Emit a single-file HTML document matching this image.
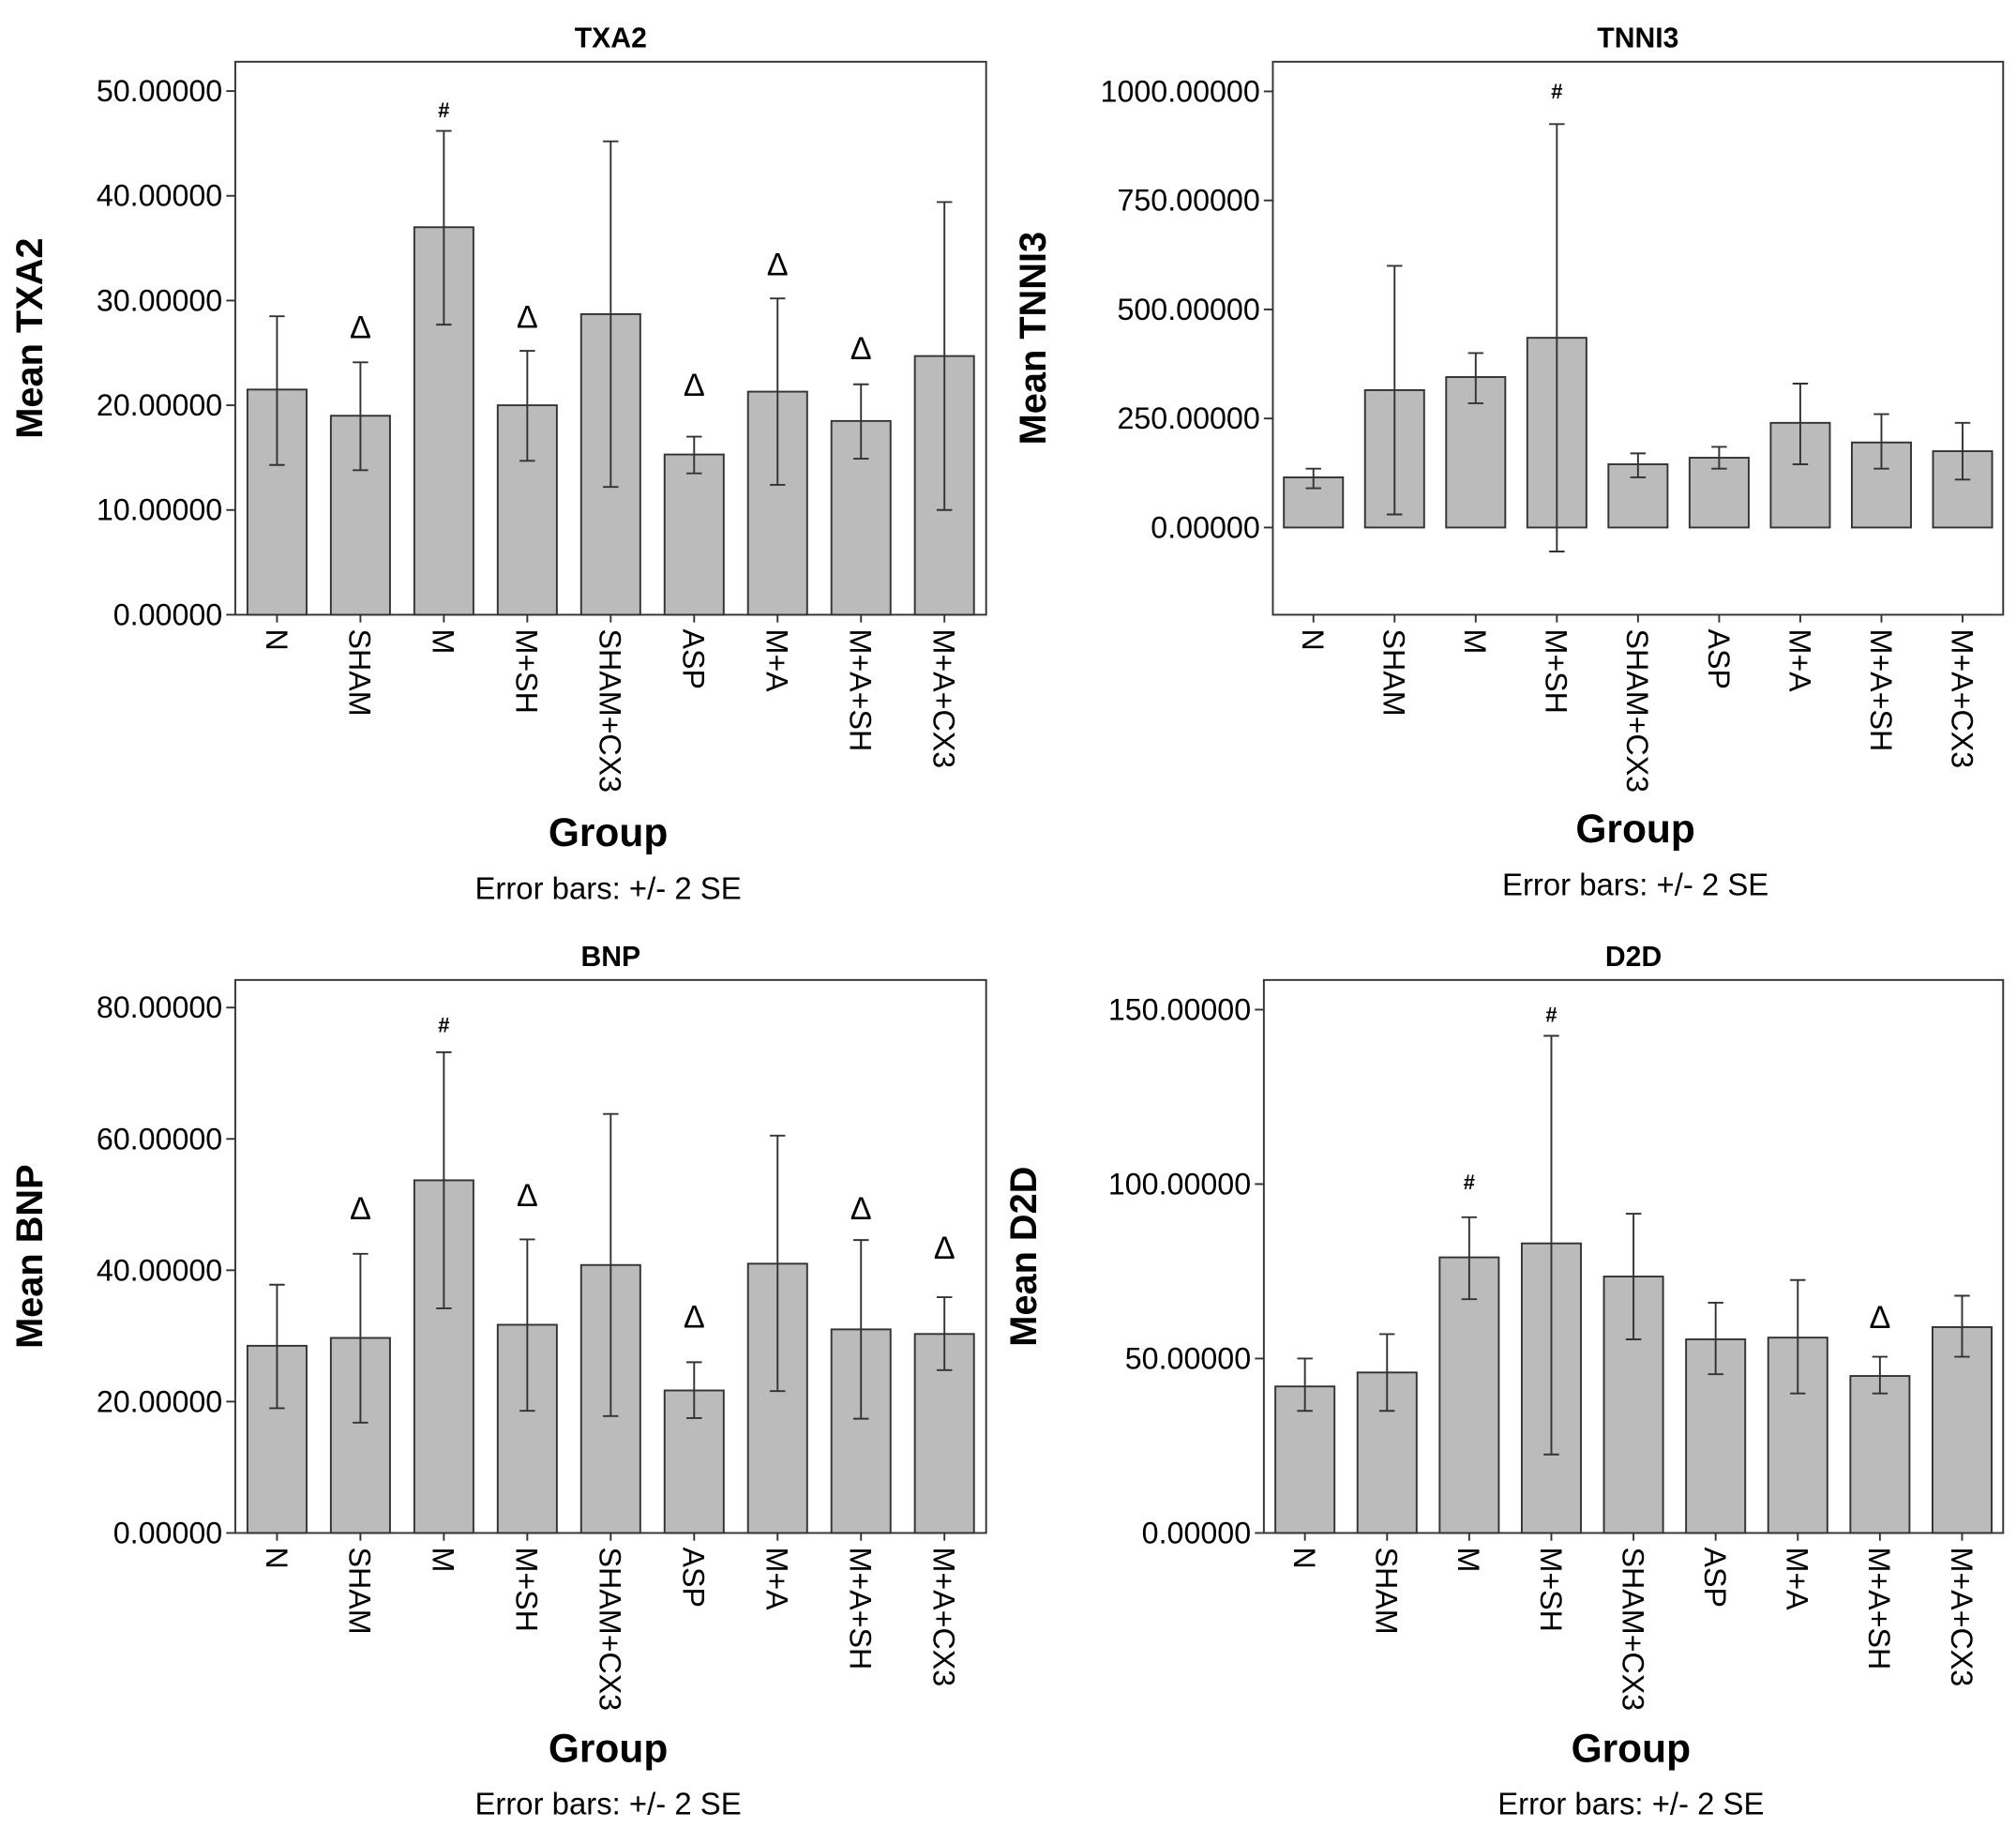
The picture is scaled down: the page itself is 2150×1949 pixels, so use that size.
<!DOCTYPE html>
<html><head><meta charset="utf-8"><style>
html,body{margin:0;padding:0;background:#fff}
svg{display:block;font-family:"Liberation Sans",Arial,sans-serif}
</style></head><body>
<svg id="fig" width="2150" height="1949" viewBox="0 0 1568 1421.4" xmlns="http://www.w3.org/2000/svg"></svg>
<script>
const groups = ["N","SHAM","M","M+SH","SHAM+CX3","ASP","M+A","M+A+SH","M+A+CX3"];
// TXA2
const txaMean = [21.5,19,37,20,28.7,15.3,21.3,18.5,24.7];
const txaLo = [14.3,13.8,27.7,14.7,12.2,13.5,12.4,14.9,10];
const txaHi = [28.5,24.1,46.2,25.2,45.2,17,30.2,22,39.4];
const txaTicks = [0,10,20,30,40,50];
const txaMarks = [null,["Δ",27.5],["#",48],["Δ",28.5],null,["Δ",22],["Δ",33.5],["Δ",25.5],null];
// TNNI3
const tnnMean = [115,315,345,435,145,160,240,195,175];
const tnnLo = [90,30,285,-55,115,135,145,135,110];
const tnnHi = [135,600,400,925,170,185,330,260,240];
const tnnTicks = [0,250,500,750,1000];
const tnnMarks = [null,null,null,["#",995],null,null,null,null,null];
// BNP
const bnpMean = [28.5,29.7,53.7,31.7,40.8,21.7,41,31,30.3];
const bnpLo = [19,16.8,34.2,18.6,17.8,17.5,21.6,17.4,24.8];
const bnpHi = [37.8,42.5,73.2,44.7,63.8,26,60.5,44.6,35.9];
const bnpTicks = [0,20,40,60,80];
const bnpMarks = [null,["Δ",49.5],["#",77],["Δ",51.5],null,["Δ",33],null,["Δ",49.5],["Δ",43.5]];
// D2D
const d2dMean = [42,46,79,83,73.5,55.5,56,45,59];
const d2dLo = [35,35,67,22.5,55.5,45.5,40,40,50.5];
const d2dHi = [50,57,90.5,142.5,91.5,66,72.5,50.5,68];
const d2dTicks = [0,50,100,150];
const d2dMarks = [null,null,["#",100],["#",148],null,null,null,["Δ",62],null];

const NS="http://www.w3.org/2000/svg";
const svg=document.getElementById('fig');
function el(tag,attrs,parent){const e=document.createElementNS(NS,tag);for(const k in attrs)e.setAttribute(k,attrs[k]);(parent||svg).appendChild(e);return e;}

function panel(cfg,mean,lo,hi,ticks,marks){
  const g=el('g',{});
  
  
  const {L,R,T,B,vTop,vBot}=cfg;
  const y=v=>B-(v-vBot)/(vTop-vBot)*(B-T);
  const step=(R-L)/9;
  const x=i=>L+step*(i+0.5);
  const t=el('text',{x:(L+R)/2,y:T-11,'text-anchor':'middle','font-size':22,'font-weight':'bold'},g);
  t.textContent=cfg.title;
  
  
  const box=el('rect',{x:L,y:T,width:R-L,height:B-T,fill:'none',stroke:'#333','stroke-width':1.4},g);
  
  
  ticks.forEach(v=>{
    el('line',{x1:L-7,x2:L,y1:y(v),y2:y(v),stroke:'#333','stroke-width':1.4},g);
    const tl=el('text',{x:L-10,y:y(v)+8,'text-anchor':'end','font-size':23.5,fill:'#000'},g);
    tl.textContent=v.toFixed(5);
    
    
  });
  groups.forEach((c,i)=>{
    const y0=y(Math.max(0,vBot));
    const b=el('rect',{x:x(i)-23,y:Math.min(y(mean[i]),y0),width:46,height:Math.abs(y0-y(mean[i])),fill:'#bbbbbb',stroke:'#333','stroke-width':1.4},g);
    
    
    const eb=el('path',{d:`M${x(i)},${y(lo[i])}V${y(hi[i])}M${x(i)-6},${y(lo[i])}H${x(i)+6}M${x(i)-6},${y(hi[i])}H${x(i)+6}`,stroke:'#333','stroke-width':1.4,fill:'none'},g);
    
    
    el('line',{x1:x(i),x2:x(i),y1:B,y2:B+6,stroke:'#333','stroke-width':1.4},g);
    const cl=el('text',{x:0,y:0,'font-size':23.5,'font-weight':500,transform:`translate(${x(i)-8.5},${B+11}) rotate(90)`},g);
    cl.textContent=c;
    
    
    if(marks[i]){
      const isHash=marks[i][0]==='#';
      const m=el('text',{x:x(i),y:y(marks[i][1])+(isHash?4:9),'text-anchor':'middle','font-size':isHash?16:25,'font-weight':isHash?'bold':'normal'},g);
      m.textContent=marks[i][0];
      
      
    }
  });
  const yt=el('text',{x:0,y:0,'font-size':29,'font-weight':'bold','text-anchor':'middle',transform:`translate(${cfg.yx},${(T+B)/2}) rotate(-90)`},g);
  yt.textContent='Mean '+cfg.title;
  
  
  const xt=el('text',{x:(L+R)/2-2,y:cfg.gy,'text-anchor':'middle','font-size':31,'font-weight':'bold'},g);
  xt.textContent='Group';
  
  
  const eb2=el('text',{x:(L+R)/2-2,y:cfg.gy+41,'text-anchor':'middle','font-size':24},g);
  eb2.textContent='Error bars: +/- 2 SE';
  
  
}
panel({key:'txa2',title:'TXA2',L:183,R:767,T:48,B:478,vTop:52.8,vBot:0,yx:33,gy:658},txaMean,txaLo,txaHi,txaTicks,txaMarks);
panel({key:'tnni3',title:'TNNI3',L:990,R:1558,T:48,B:478,vTop:1068,vBot:-200,yx:813,gy:655},tnnMean,tnnLo,tnnHi,tnnTicks,tnnMarks);
panel({key:'bnp',title:'BNP',L:183,R:767,T:762,B:1192,vTop:84.2,vBot:0,yx:33,gy:1370},bnpMean,bnpLo,bnpHi,bnpTicks,bnpMarks);
panel({key:'d2d',title:'D2D',L:983,R:1558,T:762,B:1192,vTop:158.5,vBot:0,yx:806,gy:1370},d2dMean,d2dLo,d2dHi,d2dTicks,d2dMarks);
</script>
</body></html>
